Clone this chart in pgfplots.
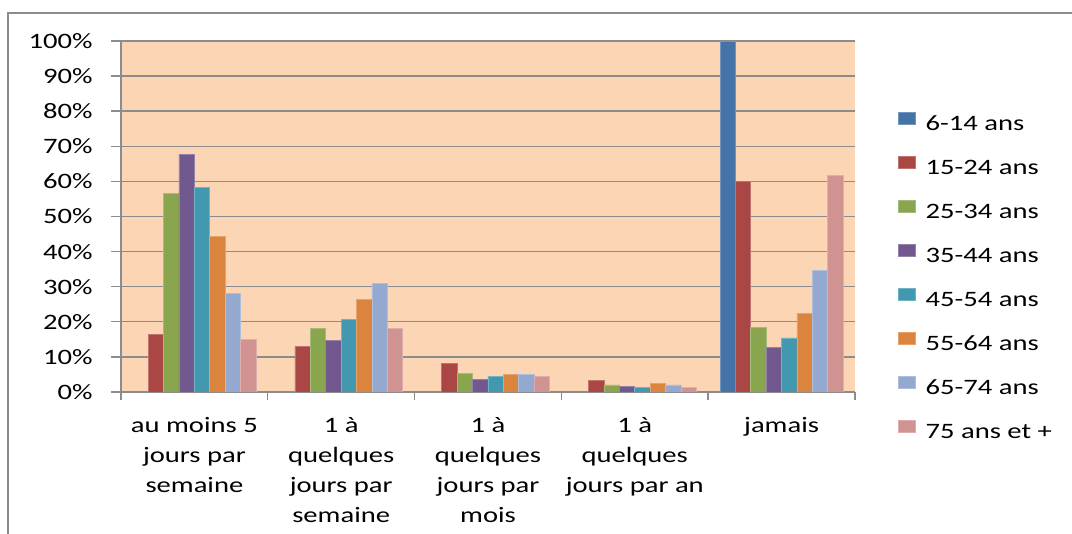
\documentclass[border=0pt]{standalone}
\usepackage{pgfplots}
\pgfplotsset{compat=1.18}
\usepackage{fontspec}
\setmainfont{Carlito}[FakeStretch=1.3]
\definecolor{c1}{HTML}{4572A7}
\definecolor{c2}{HTML}{AA4643}
\definecolor{c3}{HTML}{89A54E}
\definecolor{c4}{HTML}{71588F}
\definecolor{c5}{HTML}{4198AF}
\definecolor{c6}{HTML}{DB843D}
\definecolor{c7}{HTML}{93A9CF}
\definecolor{c8}{HTML}{D19392}
\definecolor{peach}{HTML}{FCD5B5}
\definecolor{gridc}{HTML}{8C8C8C}
\newcommand{\fl}{\rule{0pt}{9pt}}
\begin{document}
\begin{tikzpicture}
\begin{axis}[
  at={(60.5pt,71pt)}, anchor=south west,
  scale only axis, width=367pt, height=175.5pt,
  xmin=-0.5, xmax=4.5, ymin=0, ymax=100,
  ybar=0pt, bar width=7.7pt,
  axis background/.style={fill=peach},
  axis x line*=bottom, axis y line*=left,
  axis line style={gridc, line width=0.7pt},
  ymajorgrids, major grid style={gridc, line width=0.7pt},
  ytick={0,10,...,100},
  yticklabels={0\%,10\%,20\%,30\%,40\%,50\%,60\%,70\%,80\%,90\%,100\%},
  xtick={0,1,2,3,4},
  xticklabels={{\fl au moins 5\\jours par\\semaine},{\fl 1 à\\quelques\\jours par\\semaine},{\fl 1 à\\quelques\\jours par\\mois},{\fl 1 à\\quelques\\jours par an},{\fl jamais}},
  minor xtick={-0.5,0.5,...,4.5},
  tick align=outside,
  major tick length=5pt, minor tick length=4pt,
  major x tick style={draw=none},
  minor x tick style={gridc, line width=0.7pt},
  major y tick style={gridc, line width=0.7pt},
  tick label style={font=\fontsize{11}{15}\selectfont},
  xticklabel style={align=center, anchor=north, inner sep=0pt, yshift=-5.85pt},
  yticklabel style={anchor=east, inner sep=0pt, xshift=-9.0pt},
  legend style={at={(1.0586,0.8242)}, anchor=north west, draw=none, fill=none,
    inner sep=0pt, outer sep=0pt, row sep=0pt,
    nodes={inner sep=0pt, text height=14pt, text depth=8pt, font=\fontsize{11}{13}\selectfont},
    /tikz/every odd column/.style={column sep=5pt}},
  legend cell align=left,
  legend image code/.code={\draw[#1,line width=0.3pt] (0pt,0pt) rectangle (8.5pt,6pt);},
]
\addplot[fill=c1, draw=c1!75!white, line width=0.4pt] coordinates {(4,100)};
\addplot[fill=c2, draw=c2!75!white, line width=0.4pt] coordinates {(0,16.4) (1,13.0) (2,8.1) (3,3.3) (4,60.0)};
\addplot[fill=c3, draw=c3!75!white, line width=0.4pt] coordinates {(0,56.6) (1,18.0) (2,5.3) (3,2.0) (4,18.5)};
\addplot[fill=c4, draw=c4!75!white, line width=0.4pt] coordinates {(0,67.7) (1,14.7) (2,3.6) (3,1.7) (4,12.7)};
\addplot[fill=c5, draw=c5!75!white, line width=0.4pt] coordinates {(0,58.2) (1,20.7) (2,4.4) (3,1.3) (4,15.4)};
\addplot[fill=c6, draw=c6!75!white, line width=0.4pt] coordinates {(0,44.2) (1,26.4) (2,5.0) (3,2.4) (4,22.5)};
\addplot[fill=c7, draw=c7!75!white, line width=0.4pt] coordinates {(0,28.1) (1,30.9) (2,5.0) (3,2.0) (4,34.6)};
\addplot[fill=c8, draw=c8!75!white, line width=0.4pt] coordinates {(0,15.0) (1,18.0) (2,4.4) (3,1.3) (4,61.8)};
\legend{6-14 ans,15-24 ans,25-34 ans,35-44 ans,45-54 ans,55-64 ans,65-74 ans,75 ans et +}
\end{axis}
\draw[gridc, line width=1pt] (4pt,-2pt) -- (4pt,260.5pt) -- (540pt,260.5pt);
\pgfresetboundingbox
\path[use as bounding box] (0,0) rectangle (536pt,267pt);
\end{tikzpicture}
\end{document}
